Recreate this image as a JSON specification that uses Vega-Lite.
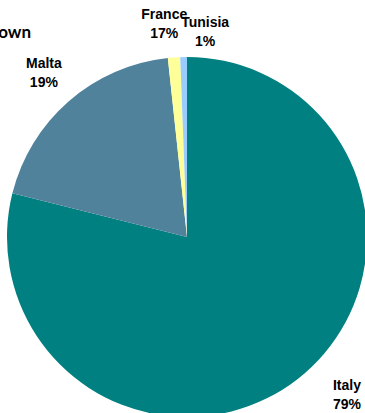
{
  "$schema": "https://vega.github.io/schema/vega-lite/v6.json",
  "width": 356,
  "height": 352,
  "autosize": {"type": "none"},
  "padding": {"left": 9, "top": 61, "right": 0, "bottom": 0},
  "background": "white",
  "title": {
    "text": "Breakdown",
    "anchor": "start",
    "align": "right",
    "dx": 24,
    "dy": 47,
    "offset": 0,
    "baseline": "alphabetic",
    "font": "Lato",
    "fontSize": 17,
    "fontWeight": "bold",
    "color": "black"
  },
  "data": {
    "values": [
      {"country": "Italy", "value": 78.9, "order": 1, "label": "Italy\n79%"},
      {"country": "Malta", "value": 19.4, "order": 2, "label": "Malta\n19%"},
      {"country": "France", "value": 1.1, "order": 3, "label": "France\n17%"},
      {"country": "Tunisia", "value": 0.6, "order": 4, "label": "Tunisia\n1%"}
    ]
  },
  "transform": [
    {"stack": "value", "groupby": [], "sort": [{"field": "order", "order": "ascending"}], "as": ["v0", "v1"]},
    {"calculate": "(datum.v0 + datum.v1) / 2", "as": "mid"}
  ],
  "layer": [
    {
      "mark": {"type": "arc", "outerRadius": 180},
      "encoding": {
        "theta": {"field": "v0", "type": "quantitative", "stack": null, "scale": {"domain": [0, 100]}},
        "theta2": {"field": "v1"},
        "color": {
          "field": "country",
          "type": "nominal",
          "legend": null,
          "scale": {
            "domain": ["Italy", "Malta", "France", "Tunisia"],
            "range": ["#008080", "#50829c", "#ffff99", "#99ccff"]
          }
        }
      }
    },
    {
      "transform": [{"filter": "datum.country == 'Malta'"}],
      "mark": {"type": "text", "radius": 218, "dy": -9, "lineBreak": "\n", "lineHeight": 19, "align": "center", "baseline": "middle", "font": "Liberation Sans", "fontSize": 14, "fontWeight": "bold", "color": "black"},
      "encoding": {
        "theta": {"field": "mid", "type": "quantitative", "stack": null},
        "text": {"field": "label"}
      }
    },
    {
      "transform": [{"filter": "datum.country == 'France'"}],
      "mark": {"type": "text", "radius": 218, "dx": -7, "dy": -5, "lineBreak": "\n", "lineHeight": 19, "align": "center", "baseline": "middle", "font": "Liberation Sans", "fontSize": 14, "fontWeight": "bold", "color": "black"},
      "encoding": {
        "theta": {"field": "mid", "type": "quantitative", "stack": null},
        "text": {"field": "label"}
      }
    },
    {
      "transform": [{"filter": "datum.country == 'Tunisia'"}],
      "mark": {"type": "text", "radius": 206, "dx": 22, "dy": -8, "lineBreak": "\n", "lineHeight": 19, "align": "center", "baseline": "middle", "font": "Liberation Sans", "fontSize": 14, "fontWeight": "bold", "color": "black"},
      "encoding": {
        "theta": {"field": "mid", "type": "quantitative", "stack": null},
        "text": {"field": "label"}
      }
    },
    {
      "transform": [{"filter": "datum.country == 'Italy'"}],
      "mark": {"type": "text", "radius": 216, "dx": 27, "dy": -21, "lineBreak": "\n", "lineHeight": 19, "align": "center", "baseline": "middle", "font": "Liberation Sans", "fontSize": 14, "fontWeight": "bold", "color": "black"},
      "encoding": {
        "theta": {"field": "mid", "type": "quantitative", "stack": null},
        "text": {"field": "label"}
      }
    }
  ],
  "config": {"view": {"stroke": null}}
}
